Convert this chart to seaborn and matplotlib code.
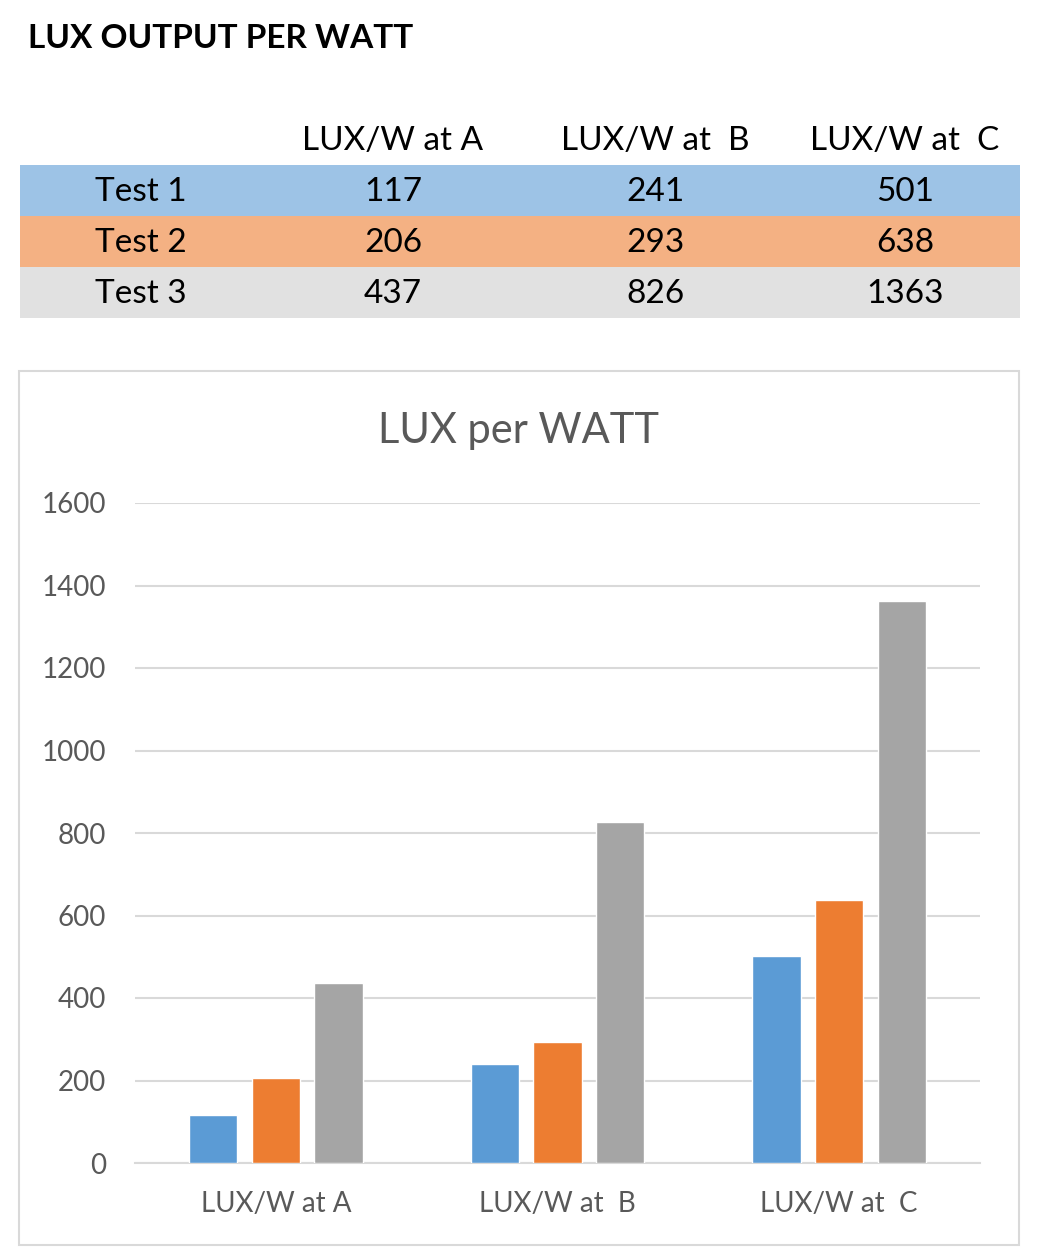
import matplotlib
matplotlib.use("Agg")
import matplotlib.pyplot as plt
import seaborn as sns
import pandas as pd
from matplotlib.patches import Rectangle

categories = ["LUX/W at A", "LUX/W at  B", "LUX/W at  C"]
tests = ["Test 1", "Test 2", "Test 3"]
test1 = [117, 241, 501]
test2 = [206, 293, 638]
test3 = [437, 826, 1363]
y_ticks = [0, 200, 400, 600, 800, 1000, 1200, 1400, 1600]

bar_colors = ["#5B9BD5", "#ED7D31", "#A5A5A5"]
band_colors = ["#9DC3E6", "#F4B183", "#E1E1E1"]

sns.set_theme(style="white")
plt.rcParams["font.family"] = ["Lato", "DejaVu Sans"]

W, H = 1038, 1247
fig = plt.figure(figsize=(W / 100, H / 100), dpi=100)

def fx(px):
    return px / W

def fy(py):
    return 1 - py / H

# Heading
fig.text(fx(28), fy(39), "LUX OUTPUT PER WATT", fontsize=24, fontweight="bold",
         color="black", ha="left", va="center")

# Table
col_x = [393, 655, 905]
for cx, cat in zip(col_x, categories):
    fig.text(fx(cx), fy(141), cat, fontsize=24, color="black", ha="center", va="center")

rows = [test1, test2, test3]
row_top = [165, 216, 267]
for name, vals, top, bc in zip(tests, rows, row_top, band_colors):
    fig.patches.append(Rectangle((fx(20), fy(top + 51)), fx(1000), 51 / H,
                                 transform=fig.transFigure, facecolor=bc,
                                 edgecolor="none", zorder=-2))
    cy = top + 27
    fig.text(fx(95), fy(cy), name, fontsize=24, color="black", ha="left", va="center")
    for cx, v in zip(col_x, vals):
        fig.text(fx(cx), fy(cy), str(v), fontsize=24, color="black", ha="center", va="center")

# Chart border
fig.patches.append(Rectangle((fx(19), fy(1245)), fx(1000), (1245 - 371) / H,
                             transform=fig.transFigure, facecolor="none",
                             edgecolor="#D9D9D9", linewidth=1.5, zorder=-1))

# Chart title
fig.text(fx(519), fy(431), "LUX per WATT", fontsize=30, color="#595959",
         ha="center", va="center")

# Bar chart
df = pd.DataFrame({
    "category": categories * 3,
    "test": [t for t in tests for _ in categories],
    "value": test1 + test2 + test3,
})

ax = fig.add_axes([fx(135), fy(1163), fx(980 - 135), (1163 - 503) / H])
ax.set_facecolor("none")
sns.barplot(data=df, x="category", y="value", hue="test", palette=bar_colors,
            width=0.6675, gap=0.227, saturation=1, ax=ax, legend=False, zorder=3)

ax.set_ylim(0, 1600)
ax.set_yticks(y_ticks)
ax.yaxis.grid(True, color="#D9D9D9", linewidth=1.5, zorder=0)
ax.set_axisbelow(True)
for s in ["top", "right", "left"]:
    ax.spines[s].set_visible(False)
ax.spines["bottom"].set_color("#D9D9D9")
ax.spines["bottom"].set_linewidth(1.5)
ax.tick_params(axis="both", length=0, labelsize=20, labelcolor="#595959")
ax.tick_params(axis="y", pad=21)
ax.tick_params(axis="x", pad=20)
ax.set_xlabel("")
ax.set_ylabel("")

fig.savefig("out.png", dpi=100)
